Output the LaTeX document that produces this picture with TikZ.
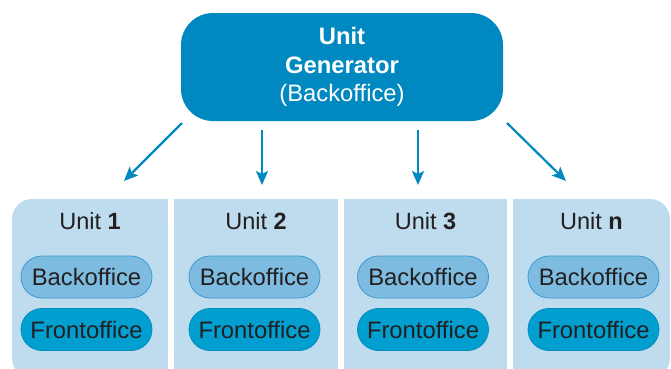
\documentclass[tikz,border=0pt]{standalone}
\usepackage{fontspec}
\setmainfont{Liberation Sans}
\usetikzlibrary{arrows.meta}

\definecolor{genblue}{RGB}{0,136,192}
\definecolor{unitbg}{RGB}{190,220,238}
\definecolor{backfill}{RGB}{125,188,224}
\definecolor{backline}{RGB}{58,154,208}
\definecolor{frontfill}{RGB}{0,159,207}
\definecolor{frontline}{RGB}{0,140,190}
\definecolor{ink}{RGB}{35,31,32}

\tikzset{
    genbox/.style={fill=genblue, text=white, rounded corners=32bp, minimum width=322bp,
        minimum height=108bp, align=center, inner sep=0pt,
        font=\fontsize{23.8bp}{28.5bp}\selectfont},
    unitlabel/.style={text=ink, font=\fontsize{23.5bp}{26bp}\selectfont},
    backpill/.style={fill=backfill, draw=backline, line width=0.8bp, rounded corners=21bp,
        minimum width=131bp, minimum height=42bp, inner sep=0pt, text=ink,
        font=\fontsize{23.8bp}{26bp}\selectfont},
    frontpill/.style={backpill, fill=frontfill, draw=frontline},
    genarrow/.style={draw=genblue, line width=2.2bp,
        -{Stealth[length=14bp, width=12bp, inset=3bp]}}
}

\begin{document}
\begin{tikzpicture}[x=1bp, y=-1bp]
    \useasboundingbox (0,0) rectangle (671,368);
    \clip (0,0) rectangle (671,368);

    % unit columns
    \fill[unitbg, rounded corners=20bp] (12,199) rectangle (168,378);
    \fill[unitbg] (60,199) rectangle (168,378);
    \fill[unitbg] (174,199) rectangle (338,378);
    \fill[unitbg] (344,199) rectangle (507,378);
    \fill[unitbg, rounded corners=20bp] (513,199) rectangle (670,378);
    \fill[unitbg] (513,199) rectangle (620,378);

    % generator
    \node[genbox] (gen) at (342,67) {\textbf{Unit}\\\textbf{Generator}\\(Backoffice)};

    % labels
    \node[unitlabel] (u1) at (90,221) {Unit \textbf{1}};
    \node[unitlabel] (u2) at (256,221) {Unit \textbf{2}};
    \node[unitlabel] (u3) at (425.5,221) {Unit \textbf{3}};
    \node[unitlabel] (un) at (591.5,221) {Unit \textbf{n}};

    % offices
    \node[backpill] (b1) at (86.5,277) {Backoffice};
    \node[backpill] (b2) at (254.5,277) {Backoffice};
    \node[backpill] (b3) at (423,277) {Backoffice};
    \node[backpill] (bn) at (593.5,277) {Backoffice};
    \node[frontpill] (f1) at (86.5,329.5) {Frontoffice};
    \node[frontpill] (f2) at (254.5,329.5) {Frontoffice};
    \node[frontpill] (f3) at (423,329.5) {Frontoffice};
    \node[frontpill] (fn) at (593.5,329.5) {Frontoffice};

    % arrows
    \coordinate (s1) at (182,123);
    \coordinate (e1) at (124,181);
    \coordinate (s2) at (262,130);
    \coordinate (e2) at (262,185);
    \coordinate (s3) at (418,130);
    \coordinate (e3) at (418,185);
    \coordinate (sn) at (507,123);
    \coordinate (en) at (566,181);
    \draw[genarrow] (s1) -- (e1);
    \draw[genarrow] (s2) -- (e2);
    \draw[genarrow] (s3) -- (e3);
    \draw[genarrow] (sn) -- (en);
\end{tikzpicture}
\end{document}
